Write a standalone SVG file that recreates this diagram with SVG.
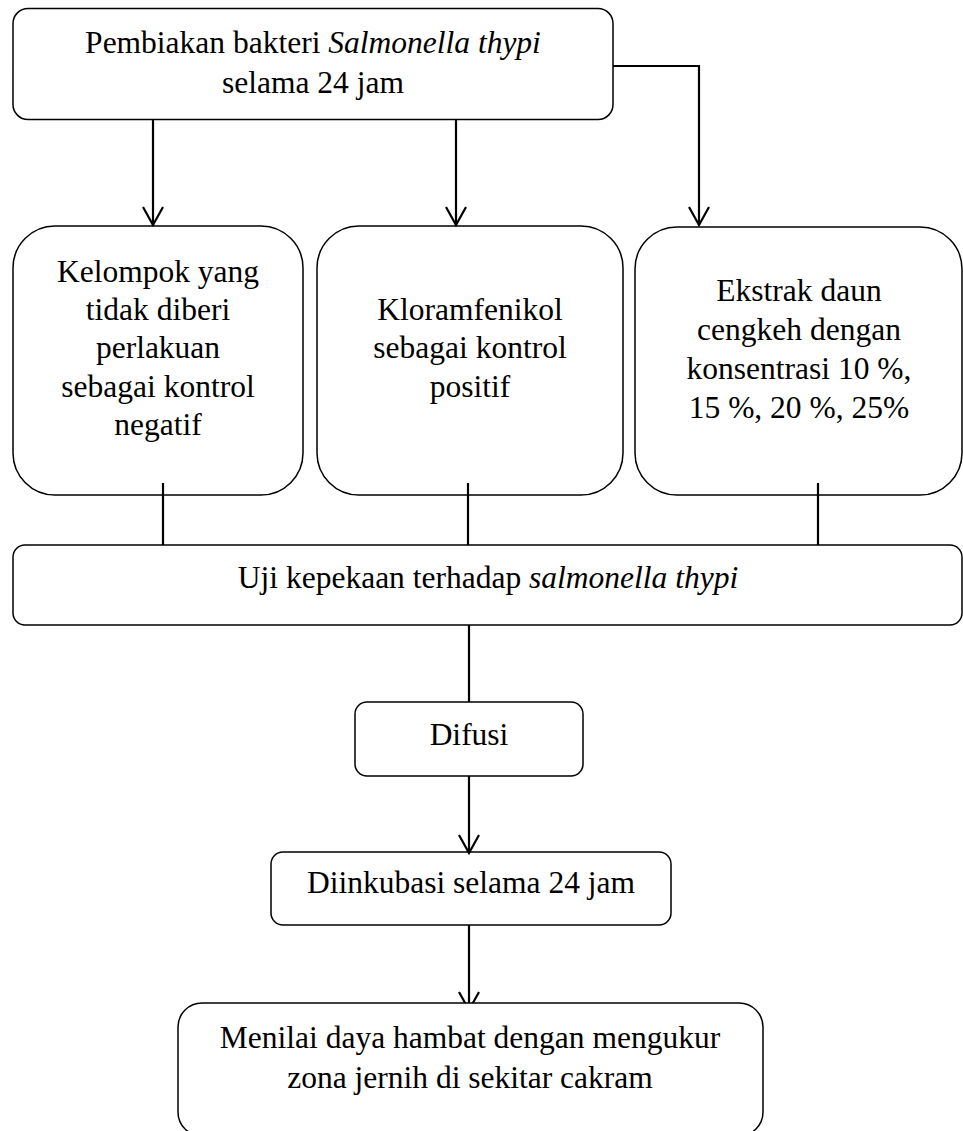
<svg xmlns="http://www.w3.org/2000/svg" width="963" height="1131" viewBox="0 0 963 1131">
<defs>
<style>
.box{fill:#fff;stroke:#000;stroke-width:1.5}
.t{font-family:"Liberation Serif","Times New Roman",serif;font-size:31.5px;fill:#000;text-anchor:middle}
.it{font-style:italic}
.c{fill:none;stroke:#000;stroke-width:2.2}
.a{marker-end:url(#ah)}
</style>
<marker id="ah" markerUnits="userSpaceOnUse" viewBox="-2 -12 22 24" markerWidth="22" markerHeight="24" refX="18" refY="0" orient="auto">
<path d="M0,-10 L18,0 L0,10" fill="none" stroke="#000" stroke-width="2.2"/>
</marker>
</defs>
<rect width="963" height="1131" fill="#fff"/>
<g id="n1">
<rect class="box" x="13" y="8.5" width="600" height="111" rx="15"/>
<text class="t" x="313" y="53">Pembiakan bakteri <tspan class="it">Salmonella thypi</tspan></text>
<text class="t" x="313" y="93">selama 24 jam</text>
</g>
<g id="n2">
<rect class="box" x="13" y="226" width="290" height="269" rx="42"/>
<text class="t" x="158" y="282">Kelompok yang</text>
<text class="t" x="158" y="320">tidak diberi</text>
<text class="t" x="158" y="358">perlakuan</text>
<text class="t" x="158" y="397">sebagai kontrol</text>
<text class="t" x="158" y="435">negatif</text>
</g>
<g id="n3">
<rect class="box" x="317" y="226" width="306" height="269" rx="42"/>
<text class="t" x="470" y="320">Kloramfenikol</text>
<text class="t" x="470" y="358">sebagai kontrol</text>
<text class="t" x="470" y="397">positif</text>
</g>
<g id="n4">
<rect class="box" x="635" y="227" width="327" height="268" rx="42"/>
<text class="t" x="799" y="301">Ekstrak daun</text>
<text class="t" x="799" y="340">cengkeh dengan</text>
<text class="t" x="799" y="379">konsentrasi 10 %,</text>
<text class="t" x="799" y="418">15 %, 20 %, 25%</text>
</g>
<g id="n5">
<rect class="box" x="13" y="545" width="949" height="80" rx="12"/>
<text class="t" x="488" y="588">Uji kepekaan terhadap <tspan class="it">salmonella thypi</tspan></text>
</g>
<g id="n6">
<rect class="box" x="355" y="702" width="228" height="74" rx="12"/>
<text class="t" x="469" y="745">Difusi</text>
</g>
<g id="n7">
<rect class="box" x="271" y="852" width="400" height="73" rx="12"/>
<text class="t" x="471" y="893">Diinkubasi selama 24 jam</text>
</g>
<g id="connectors">
<path class="c a" d="M153,120 V225"/>
<path class="c a" d="M456,120 V225"/>
<path class="c a" d="M613,66 H699 V225"/>
<path class="c" d="M163,483 V545"/>
<path class="c" d="M468,483 V545"/>
<path class="c" d="M818,483 V545"/>
<path class="c" d="M469,625 V702"/>
<path class="c a" d="M469,776 V853"/>
<path class="c a" d="M469,925 V1010"/>
</g>
<g id="n8">
<rect class="box" x="178" y="1003" width="585" height="133" rx="24"/>
<text class="t" x="470" y="1048">Menilai daya hambat dengan mengukur</text>
<text class="t" x="470" y="1088">zona jernih di sekitar cakram</text>
</g>
</svg>
